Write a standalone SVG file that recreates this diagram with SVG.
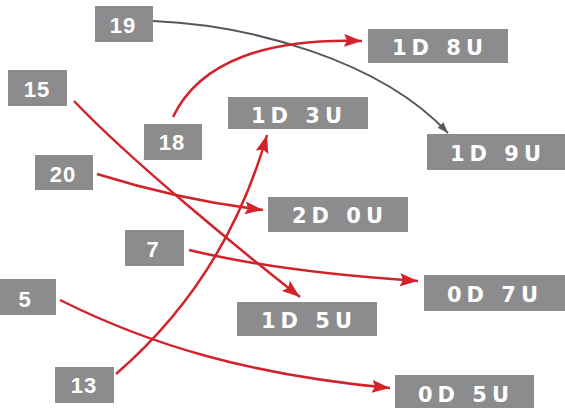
<svg xmlns="http://www.w3.org/2000/svg" width="565" height="408" viewBox="0 0 565 408">
<style>
.box{fill:#8c8c8e}
.num{font-family:"Liberation Sans",Arial,sans-serif;font-weight:bold;font-size:22px;fill:#fff;text-anchor:middle;letter-spacing:1px}
.lbl{font-family:"DejaVu Sans",sans-serif;font-weight:bold;font-size:21px;fill:#fff;text-anchor:middle;letter-spacing:5px}
.red{fill:none;stroke:#d2232a;stroke-width:2.5}
.gray{fill:none;stroke:#58585a;stroke-width:2}
</style>
<defs>
<marker id="ar" markerUnits="userSpaceOnUse" markerWidth="20" markerHeight="14" refX="18" refY="6.5" orient="auto">
<path d="M0,0 L18,6.5 L0,13 L3,6.5 z" fill="#d2232a"/>
</marker>
<marker id="ag" markerUnits="userSpaceOnUse" markerWidth="12" markerHeight="9" refX="11" refY="4" orient="auto">
<path d="M0,0 L11,4 L0,8 z" fill="#58585a"/>
</marker>
</defs>
<rect width="565" height="408" fill="#fff"/>
<g id="n19"><rect class="box" x="95" y="6" width="58" height="36"/><text class="num" x="123" y="33">19</text></g>
<g id="n15"><rect class="box" x="8" y="70" width="59" height="36"/><text class="num" x="37" y="97">15</text></g>
<g id="n18"><rect class="box" x="144" y="124" width="58" height="36"/><text class="num" x="172" y="150">18</text></g>
<g id="n20"><rect class="box" x="35" y="155" width="58" height="35"/><text class="num" x="63" y="182">20</text></g>
<g id="n7"><rect class="box" x="125" y="230" width="59" height="36"/><text class="num" x="153" y="257">7</text></g>
<g id="n5"><rect class="box" x="0" y="279" width="56" height="36"/><text class="num" x="25" y="307">5</text></g>
<g id="n13"><rect class="box" x="55" y="367" width="59" height="36"/><text class="num" x="84" y="393">13</text></g>
<g id="d1u3"><rect class="box" x="228" y="97" width="140" height="32"/><text class="lbl" x="299" y="123">1D 3U</text></g>
<g id="d1u8"><rect class="box" x="368" y="29" width="140" height="34"/><text class="lbl" x="440" y="55">1D 8U</text></g>
<g id="d1u9"><rect class="box" x="427" y="134" width="140" height="36"/><text class="lbl" x="498" y="161">1D 9U</text></g>
<g id="d2u0"><rect class="box" x="268" y="197" width="140" height="35"/><text class="lbl" x="340" y="223">2D 0U</text></g>
<g id="d0u7"><rect class="box" x="424" y="275" width="141" height="36"/><text class="lbl" x="495" y="302">0D 7U</text></g>
<g id="d1u5"><rect class="box" x="237" y="302" width="140" height="34"/><text class="lbl" x="309" y="328">1D 5U</text></g>
<g id="d0u5"><rect class="box" x="395" y="375" width="139" height="36"/><text class="lbl" x="466" y="402">0D 5U</text></g>
<g id="connectors">
<path class="gray" d="M153,21 C250,25 380,60 448,133" marker-end="url(#ag)"/>
<path class="red" d="M173,117 C200,60 270,38 362,41" marker-end="url(#ar)"/>
<path class="red" d="M74,101 C130,160 240,250 300,297" marker-end="url(#ar)"/>
<path class="red" d="M97,174 Q180,200 263,210" marker-end="url(#ar)"/>
<path class="red" d="M116,374 C190,310 240,230 267,135" marker-end="url(#ar)"/>
<path class="red" d="M189,250 Q280,272 418,281" marker-end="url(#ar)"/>
<path class="red" d="M60,300 C150,345 250,375 390,388" marker-end="url(#ar)"/>
</g>
</svg>
